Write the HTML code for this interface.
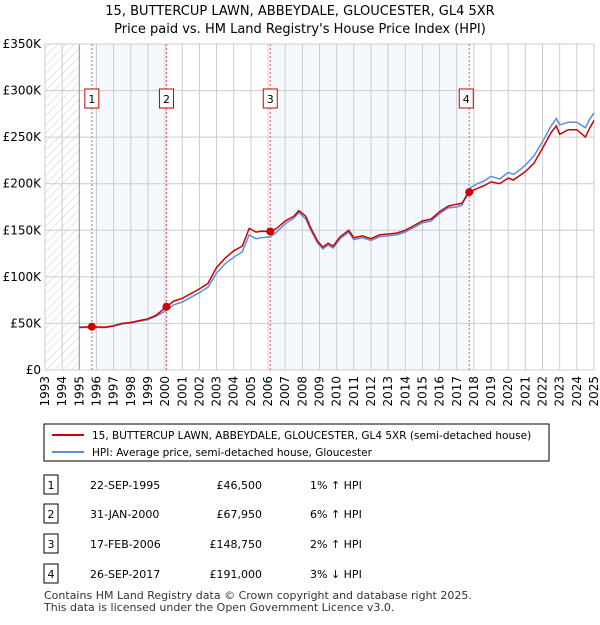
<!DOCTYPE html>
<html><head><meta charset="utf-8"><style>
body{margin:0;background:#fff;font-family:"Liberation Sans","DejaVu Sans",sans-serif;}
svg text{font-family:"DejaVu Sans","Liberation Sans",sans-serif;}
</style></head><body>
<svg id="c" width="600" height="620" viewBox="0 0 600 620" xmlns="http://www.w3.org/2000/svg">
<defs><pattern id="h" width="6" height="6" patternUnits="userSpaceOnUse" patternTransform="rotate(45)"><line x1="0" y1="0" x2="0" y2="6" stroke="#ccc" stroke-width="1"/></pattern></defs>
<text x="300" y="15" text-anchor="middle" font-size="13" fill="#000">15, BUTTERCUP LAWN, ABBEYDALE, GLOUCESTER, GL4 5XR</text>
<text x="300" y="33" text-anchor="middle" font-size="13" fill="#000">Price paid vs. HM Land Registry's House Price Index (HPI)</text>
<g id="plot"></g>
<rect x="44" y="424" width="505" height="37" fill="#fff" stroke="#000" stroke-width="1"/>
<line x1="52" y1="435" x2="84" y2="435" stroke="#cc0000" stroke-width="2"/>
<text x="92" y="439" font-size="10.5">15, BUTTERCUP LAWN, ABBEYDALE, GLOUCESTER, GL4 5XR (semi-detached house)</text>
<line x1="52" y1="452" x2="84" y2="452" stroke="#5b8fd6" stroke-width="2"/>
<text x="92" y="456" font-size="10.5">HPI: Average price, semi-detached house, Gloucester</text>
<g id="tbl" font-size="11"></g>
<text x="44" y="599" font-size="11" fill="#333">Contains HM Land Registry data © Crown copyright and database right 2025.</text>
<text x="44" y="611" font-size="11" fill="#333">This data is licensed under the Open Government Licence v3.0.</text>
</svg>
<script>
const priceYears=[1995,1995.73,1996.5,1997,1997.5,1998,1998.5,1999,1999.5,2000.08,2000.5,2001,2001.5,2002,2002.5,2003,2003.5,2004,2004.5,2004.9,2005.3,2005.6,2006.13,2006.5,2007,2007.5,2007.8,2008.2,2008.5,2008.9,2009.2,2009.5,2009.8,2010.2,2010.7,2011,2011.5,2012,2012.5,2013,2013.5,2014,2014.5,2015,2015.5,2016,2016.5,2017,2017.3,2017.73,2018.2,2018.6,2019,2019.5,2020,2020.3,2020.7,2021,2021.5,2022,2022.5,2022.8,2023,2023.5,2024,2024.5,2024.7,2025];
const priceValues=[46,46.5,46,47.5,50,51,53,55,59,68,74,77,82,87,93,110,120,128,133,152,148,149,148.75,152,160,165,171,165,152,138,132,136,133,143,150,142,144,141,145,146,147,150,155,160,162,170,176,178,179,191,195,198,202,200,206,204,209,213,222,238,255,262,253,258,258,250,258,268];
const hpiValues=[45.5,46,45.5,47,49.5,50.5,52.5,54,58,64,70,73,78,83,89,104,114,121,127,145,141,142,143,148,157,163,169,162,150,136,130,134,131,141,148,140,142,139,143,144,145,148,153,158,160,168,174,175,177,195,200,203,208,205,212,210,215,220,230,245,262,270,263,266,266,260,268,276];
const yTicks=[0,50,100,150,200,250,300,350];
const yTickLabels=["£0","£50K","£100K","£150K","£200K","£250K","£300K","£350K"];
const saleLabels=["1","2","3","4"];
const saleYears=[1995.73,2000.08,2006.13,2017.73];
const saleValues=[46.5,67.95,148.75,191];
const saleDates=["22-SEP-1995","31-JAN-2000","17-FEB-2006","26-SEP-2017"];
const salePrices=["£46,500","£67,950","£148,750","£191,000"];
const saleHpi=["1% ↑ HPI","6% ↑ HPI","2% ↑ HPI","3% ↓ HPI"];
const x0=45,x1=594,y0=370,y1=44,yr0=1993,yr1=2025,vmax=350;
const X=v=>x0+(v-yr0)/(yr1-yr0)*(x1-x0);
const Y=v=>y0-v/vmax*(y0-y1);
const NS="http://www.w3.org/2000/svg";
const plot=document.getElementById('plot');
function mk(t,a,p){const e=document.createElementNS(NS,t);for(const k in a)e.setAttribute(k,a[k]);(p||plot).appendChild(e);return e;}
let e;
e=mk('rect',{x:x0,y:y1,width:x1-x0,height:y0-y1,fill:'#fff'});


[[0,1],[2,3]].forEach(([a,b],i)=>{e=mk('rect',{x:X(saleYears[a]),y:y1,width:X(saleYears[b])-X(saleYears[a]),height:y0-y1,fill:'#eef3fc',opacity:0.6});

});
e=mk('rect',{x:x0,y:y1,width:X(1995)-x0,height:y0-y1,fill:'url(#h)'});


for(let yr=yr0;yr<=yr1;yr++){e=mk('line',{x1:X(yr),x2:X(yr),y1:y1,y2:y0,stroke:'#ccc','stroke-width':1});


e=mk('text',{x:0,y:0,'font-size':12,'text-anchor':'end',transform:`translate(${X(yr)+4},${y0+6}) rotate(-90)`});e.textContent=yr;

}
yTicks.forEach((v,i)=>{e=mk('line',{x1:x0,x2:x1,y1:Y(v),y2:Y(v),stroke:'#ccc','stroke-width':1});


e=mk('text',{x:x0-4,y:Y(v)+4,'font-size':12,'text-anchor':'end'});e.textContent=yTickLabels[i];

});
e=mk('line',{x1:X(1995),x2:X(1995),y1:y1,y2:y0,stroke:'#999'});


e=mk('rect',{x:x0,y:y1,width:x1-x0,height:y0-y1,fill:'none',stroke:'#ccc'});


saleYears.forEach((yv,i)=>{e=mk('line',{x1:X(yv),x2:X(yv),y1:y1,y2:y0,stroke:'#e06060','stroke-dasharray':'2,2'});


const bx=X(yv)-(i==3?3:0);
e=mk('rect',{x:bx-7,y:89,width:14,height:19,fill:'#fff',stroke:'#cc0000'});


e=mk('text',{x:bx,y:103,'font-size':11,'text-anchor':'middle'});e.textContent=saleLabels[i];

});
const pts=a=>priceYears.map((y,i)=>X(y).toFixed(1)+','+Y(a[i]).toFixed(1)).join(' ');
e=mk('polyline',{points:pts(hpiValues),fill:'none',stroke:'#5b8fd6','stroke-width':1.5});


e=mk('polyline',{points:pts(priceValues),fill:'none',stroke:'#cc0000','stroke-width':1.5});


saleYears.forEach((yv,i)=>{e=mk('circle',{cx:X(yv),cy:Y(saleValues[i]),r:4,fill:'#cc0000'});

});
const tbl=document.getElementById('tbl');
const rowY=[485,514,544,574];
saleLabels.forEach((l,i)=>{const y=rowY[i];
e=mk('rect',{x:44,y:y-10,width:14,height:19,fill:'#fff',stroke:'#000'},tbl);


e=mk('text',{x:51,y:y+4,'text-anchor':'middle'},tbl);e.textContent=l;


e=mk('text',{x:90,y:y+4},tbl);e.textContent=saleDates[i];


e=mk('text',{x:262,y:y+4,'text-anchor':'end'},tbl);e.textContent=salePrices[i];


e=mk('text',{x:310,y:y+4},tbl);e.textContent=saleHpi[i];

});
</script>
</body></html>
